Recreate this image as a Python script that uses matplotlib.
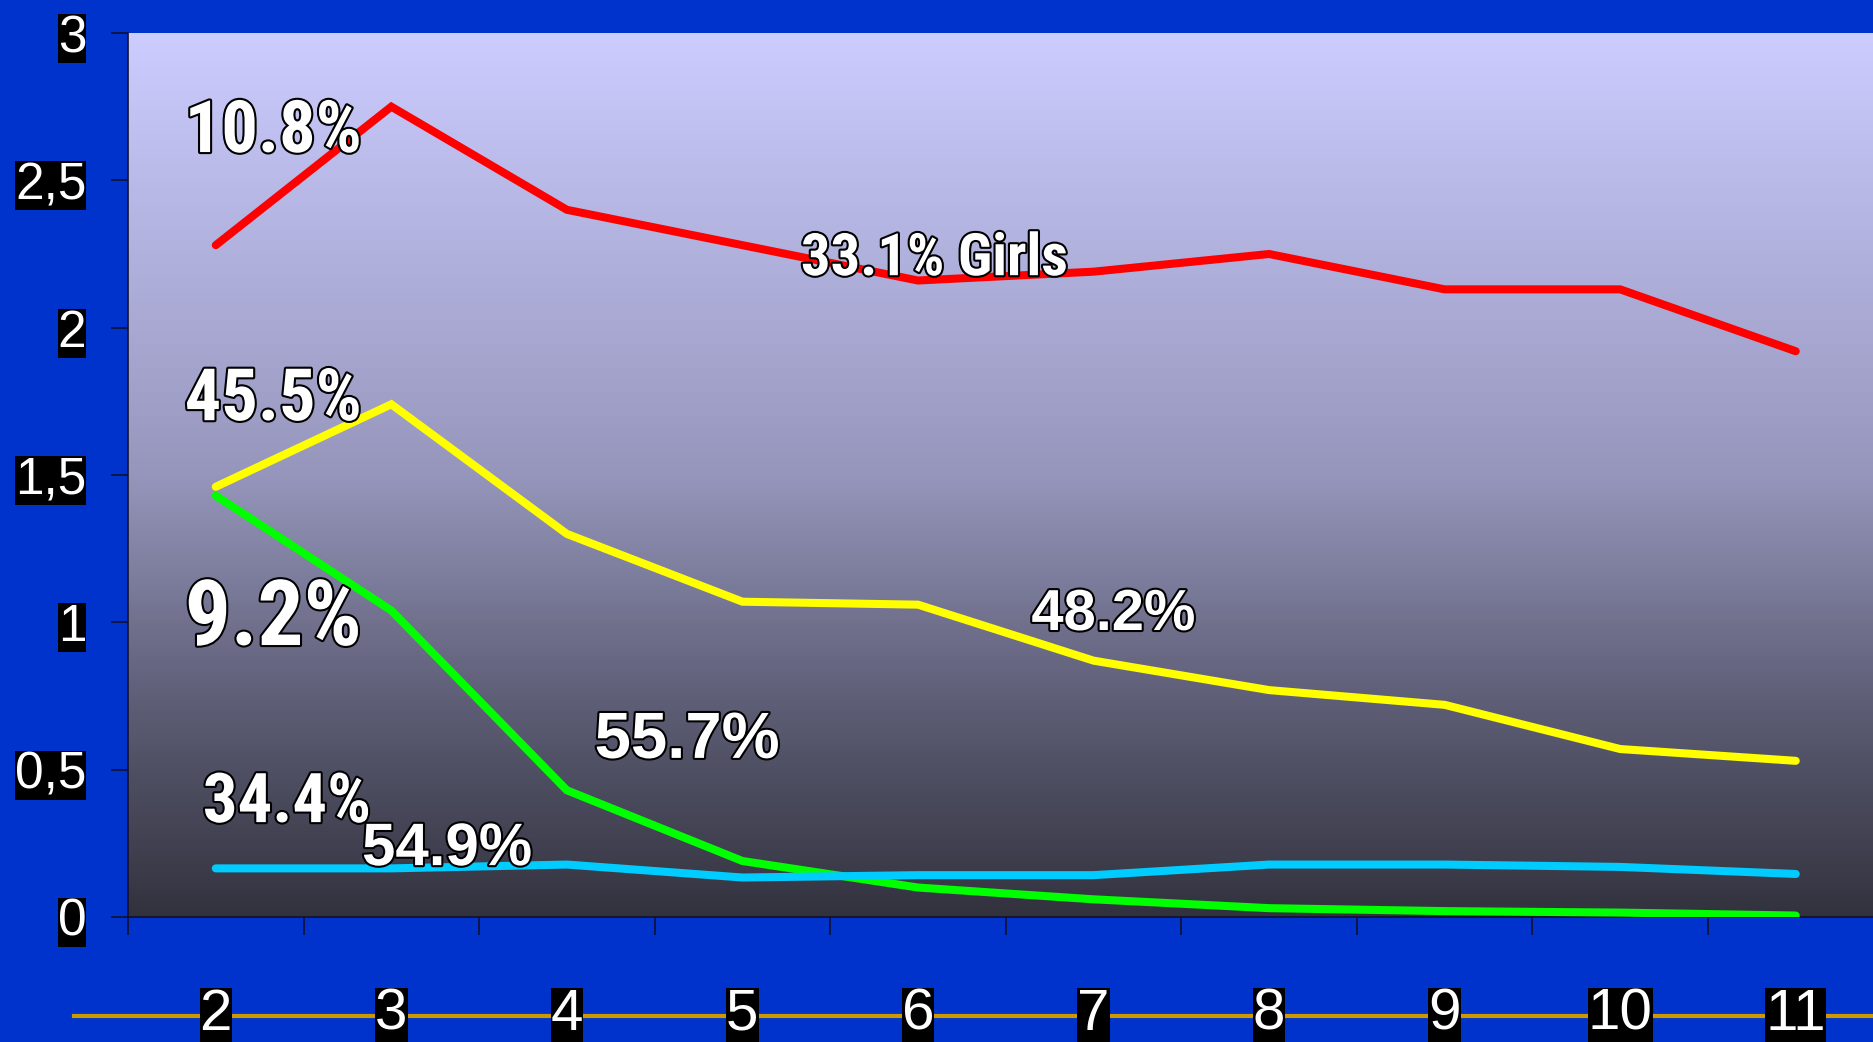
import numpy as np
import matplotlib
matplotlib.use('Agg')
import matplotlib.pyplot as plt
import matplotlib.patheffects as pe
from matplotlib import font_manager
from matplotlib.colors import LinearSegmentedColormap
from matplotlib.lines import Line2D

# donnees
categories = ['2', '3', '4', '5', '6', '7', '8', '9', '10', '11']
serie_rouge = [2.28, 2.75, 2.40, 2.28, 2.16, 2.19, 2.25, 2.13, 2.13, 1.92]
serie_jaune = [1.46, 1.74, 1.30, 1.07, 1.06, 0.87, 0.77, 0.72, 0.57, 0.53]
serie_verte = [1.43, 1.04, 0.43, 0.19, 0.10, 0.06, 0.03, 0.02, 0.015, 0.005]
serie_cyan = [0.165, 0.165, 0.178, 0.134, 0.142, 0.142, 0.178, 0.178, 0.170, 0.146]
y_ticks = [0, 0.5, 1, 1.5, 2, 2.5, 3]
y_labels = ['0', '0,5', '1', '1,5', '2', '2,5', '3']
annotations = ['10.8%', '45.5%', '9.2%', '34.4%', '54.9%', '55.7%', '48.2%', '33.1% Girls']


def police_etroite():
    # cherche une police grasse etroite installee, sinon Liberation Sans gras
    prio = ['Liberation Sans Narrow', 'Arial Narrow', 'Roboto Condensed',
            'DejaVu Sans Condensed', 'Open Sans Condensed', 'Noto Sans Condensed']
    trouves = []
    for f in font_manager.fontManager.ttflist:
        w = f.weight if isinstance(f.weight, int) else font_manager.weight_dict.get(f.weight, 400)
        etroit = ('Narrow' in f.name or 'Condensed' in f.name
                  or f.stretch in ('condensed', 'semi-condensed', 'extra-condensed'))
        if etroit and w >= 600:
            trouves.append(f)
    for nom in prio:
        for f in trouves:
            if f.name.startswith(nom.split()[0]) and ('Narrow' in nom and 'Narrow' in f.name or 'Condensed' in nom):
                return font_manager.FontProperties(fname=f.fname)
    if trouves:
        return font_manager.FontProperties(fname=trouves[0].fname)
    return font_manager.FontProperties(family=['Liberation Sans', 'DejaVu Sans'], weight='bold')


if __name__ == '__main__':

    fig = plt.figure(figsize=(18.73, 10.42), dpi=100)
    fig.patch.set_facecolor('#0033cc')
    ax = fig.add_axes([128 / 1873, 125 / 1042, 1 - 128 / 1873, 884 / 1042])

    x = np.arange(len(categories))

    # fond en degrade
    cmap = LinearSegmentedColormap.from_list('fond', [
        (0.0, (50 / 255, 50 / 255, 62 / 255)),
        (0.25, (95 / 255, 95 / 255, 120 / 255)),
        (0.5, (150 / 255, 150 / 255, 188 / 255)),
        (1.0, (204 / 255, 204 / 255, 255 / 255))])
    grad = np.linspace(0, 1, 256).reshape(-1, 1)
    ax.imshow(grad, cmap=cmap, aspect='auto', extent=[0, 1, 0, 1],
              transform=ax.transAxes, origin='lower', zorder=0)

    for serie, couleur in [(serie_rouge, '#ff0000'), (serie_jaune, '#ffff00'),
                           (serie_verte, '#00ff00'), (serie_cyan, '#00ccff')]:
        ax.plot(x, serie, color=couleur, lw=5.8, solid_capstyle='round',
                solid_joinstyle='miter', zorder=3)

    # axes et graduations
    for s in ['top', 'right']:
        ax.spines[s].set_visible(False)
    ax.spines['left'].set_color('#101030')
    ax.spines['bottom'].set_color('#101030')
    ax.spines['left'].set_linewidth(1.2)
    ax.spines['bottom'].set_linewidth(1.2)

    ax.set_yticks(y_ticks)
    ax.set_yticklabels(y_labels, family=['Liberation Sans', 'DejaVu Sans'])
    ax.tick_params(axis='y', length=12, width=1.2, color='#101030',
                   labelsize=37, labelcolor='white', pad=18)

    ax.set_xticks(np.arange(-0.5, 10, 1.0))
    ax.set_xticklabels([])
    ax.set_xticks(x, minor=True)
    ax.set_xticklabels(categories, minor=True, family=['Liberation Sans', 'DejaVu Sans'])
    ax.tick_params(axis='x', which='major', length=13, width=1.2, color='#101030')
    ax.tick_params(axis='x', which='minor', length=0, labelsize=42,
                   labelcolor='white', pad=51)

    # limites apres les graduations (set_xticks elargit la vue)
    ax.set_xlim(-0.5, 9.44)
    ax.set_ylim(0, 3)

    for lbl in ax.get_yticklabels() + ax.get_xticklabels(minor=True):
        lbl.set_bbox(dict(facecolor='black', edgecolor='none', pad=0))

    # ligne doree sous les etiquettes
    fig.add_artist(Line2D([74 / 1873, 1], [1 - 1016 / 1042] * 2,
                          color='#cc9900', lw=3, zorder=-1))

    # etiquettes de pourcentage : (x, y, largeur visee en px, taille max, etroite?)
    fp_etroit = police_etroite()
    fp_normal = font_manager.FontProperties(family=['Liberation Sans', 'DejaVu Sans'], weight='bold')
    positions = [(-0.177, 2.596, 177, 66, True), (-0.177, 1.686, 177, 66, True),
                 (-0.177, 0.923, 177, 66, True), (-0.074, 0.322, 168, 66, True),
                 (0.833, 0.176, 170, 45, False), (2.158, 0.540, 185, 48, False),
                 (4.646, 0.974, 164, 44, False), (3.333, 2.178, 267, 46, True)]
    renderer = fig.canvas.get_renderer()
    for texte, (px, py, largeur, tmax, etroite) in zip(annotations, positions):
        fp = (fp_etroit if etroite else fp_normal).copy()
        fp.set_size(40)
        t = ax.text(px, py, texte, fontproperties=fp, color='white',
                    ha='left', va='baseline', zorder=5,
                    path_effects=[pe.withStroke(linewidth=3, foreground='black')])
        w = t.get_window_extent(renderer=renderer).width
        t.set_fontsize(min(tmax, 40 * largeur / w))

    fig.savefig('out.png', dpi=100, facecolor=fig.get_facecolor())
